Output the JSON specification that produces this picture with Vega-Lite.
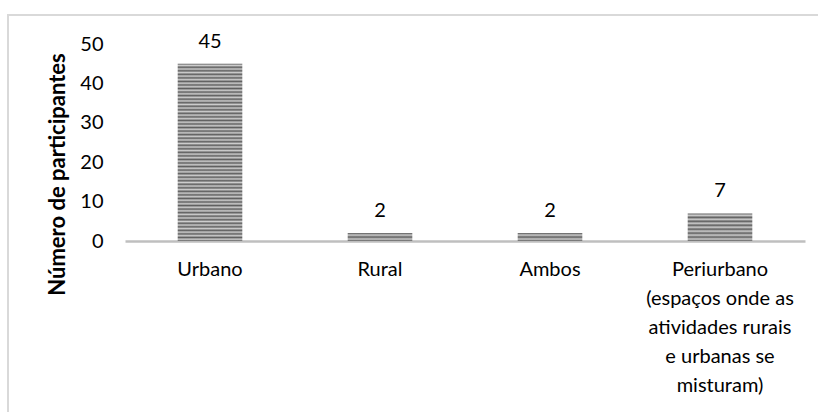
{
  "$schema": "https://vega.github.io/schema/vega-lite/v6.json",
  "autosize": {"type": "none"},
  "padding": {"left": 8, "top": 15, "right": 0, "bottom": 0},
  "width": 812,
  "height": 400,
  "background": "white",
  "config": {
    "view": {"stroke": "#d9d9d9", "strokeWidth": 2},
    "font": "Lato"
  },
  "data": {
    "values": [
      {"zona": "Urbano", "participantes": 45},
      {"zona": "Rural", "participantes": 2},
      {"zona": "Ambos", "participantes": 2},
      {"zona": "Periurbano\n(espaços onde as\natividades rurais\ne urbanas se\nmisturam)", "participantes": 7}
    ]
  },
  "encoding": {
    "x": {
      "field": "zona",
      "type": "nominal",
      "sort": null,
      "scale": {"range": [117, 797], "paddingInner": 0.62, "paddingOuter": 0.31},
      "axis": {
        "title": null,
        "orient": "bottom",
        "offset": -174,
        "domainColor": "#bfbfbf",
        "domainWidth": 2.5,
        "ticks": false,
        "tickSize": 0,
        "labelAngle": 0,
        "labelPadding": 18,
        "labelFont": "Lato",
        "labelFontSize": 20,
        "labelColor": "#000000",
        "labelLineHeight": 29,
        "labelLimit": 0,
        "labelExpr": "split(datum.label, '\\n')"
      }
    },
    "y": {
      "field": "participantes",
      "type": "quantitative",
      "scale": {"domain": [0, 50], "range": [226, 29], "nice": false},
      "axis": {
        "title": "Número de participantes",
        "titleFont": "Lato",
        "titleFontSize": 22,
        "titleFontWeight": "bold",
        "titleColor": "#000000",
        "titlePadding": 10,
        "titleY": 159,
        "values": [0, 10, 20, 30, 40, 50],
        "offset": -95,
        "domain": false,
        "ticks": false,
        "tickSize": 0,
        "grid": false,
        "labelPadding": 0,
        "labelFont": "Lato",
        "labelFontSize": 20,
        "labelColor": "#000000"
      }
    }
  },
  "layer": [
    {
      "mark": {"type": "bar"},
      "encoding": {
        "fill": {
          "condition": [
            {
              "test": "datum.zona === 'Urbano'",
              "value": {
                "gradient": "linear", "x1": 0, "y1": 0, "x2": 0, "y2": 1,
                "stops": [
                  {"offset": 0, "color": "#5e5e5e"}, {"offset": 0.01, "color": "#cdcdcd"},
                  {"offset": 0.02, "color": "#5e5e5e"}, {"offset": 0.03, "color": "#cdcdcd"},
                  {"offset": 0.04, "color": "#5e5e5e"}, {"offset": 0.05, "color": "#cdcdcd"},
                  {"offset": 0.06, "color": "#5e5e5e"}, {"offset": 0.07, "color": "#cdcdcd"},
                  {"offset": 0.08, "color": "#5e5e5e"}, {"offset": 0.09, "color": "#cdcdcd"},
                  {"offset": 0.10, "color": "#5e5e5e"}, {"offset": 0.11, "color": "#cdcdcd"},
                  {"offset": 0.12, "color": "#5e5e5e"}, {"offset": 0.13, "color": "#cdcdcd"},
                  {"offset": 0.14, "color": "#5e5e5e"}, {"offset": 0.15, "color": "#cdcdcd"},
                  {"offset": 0.16, "color": "#5e5e5e"}, {"offset": 0.17, "color": "#cdcdcd"},
                  {"offset": 0.18, "color": "#5e5e5e"}, {"offset": 0.19, "color": "#cdcdcd"},
                  {"offset": 0.20, "color": "#5e5e5e"}, {"offset": 0.21, "color": "#cdcdcd"},
                  {"offset": 0.22, "color": "#5e5e5e"}, {"offset": 0.23, "color": "#cdcdcd"},
                  {"offset": 0.24, "color": "#5e5e5e"}, {"offset": 0.25, "color": "#cdcdcd"},
                  {"offset": 0.26, "color": "#5e5e5e"}, {"offset": 0.27, "color": "#cdcdcd"},
                  {"offset": 0.28, "color": "#5e5e5e"}, {"offset": 0.29, "color": "#cdcdcd"},
                  {"offset": 0.30, "color": "#5e5e5e"}, {"offset": 0.31, "color": "#cdcdcd"},
                  {"offset": 0.32, "color": "#5e5e5e"}, {"offset": 0.33, "color": "#cdcdcd"},
                  {"offset": 0.34, "color": "#5e5e5e"}, {"offset": 0.35, "color": "#cdcdcd"},
                  {"offset": 0.36, "color": "#5e5e5e"}, {"offset": 0.37, "color": "#cdcdcd"},
                  {"offset": 0.38, "color": "#5e5e5e"}, {"offset": 0.39, "color": "#cdcdcd"},
                  {"offset": 0.40, "color": "#5e5e5e"}, {"offset": 0.41, "color": "#cdcdcd"},
                  {"offset": 0.42, "color": "#5e5e5e"}, {"offset": 0.43, "color": "#cdcdcd"},
                  {"offset": 0.44, "color": "#5e5e5e"}, {"offset": 0.45, "color": "#cdcdcd"},
                  {"offset": 0.46, "color": "#5e5e5e"}, {"offset": 0.47, "color": "#cdcdcd"},
                  {"offset": 0.48, "color": "#5e5e5e"}, {"offset": 0.49, "color": "#cdcdcd"},
                  {"offset": 0.50, "color": "#5e5e5e"}, {"offset": 0.51, "color": "#cdcdcd"},
                  {"offset": 0.52, "color": "#5e5e5e"}, {"offset": 0.53, "color": "#cdcdcd"},
                  {"offset": 0.54, "color": "#5e5e5e"}, {"offset": 0.55, "color": "#cdcdcd"},
                  {"offset": 0.56, "color": "#5e5e5e"}, {"offset": 0.57, "color": "#cdcdcd"},
                  {"offset": 0.58, "color": "#5e5e5e"}, {"offset": 0.59, "color": "#cdcdcd"},
                  {"offset": 0.60, "color": "#5e5e5e"}, {"offset": 0.61, "color": "#cdcdcd"},
                  {"offset": 0.62, "color": "#5e5e5e"}, {"offset": 0.63, "color": "#cdcdcd"},
                  {"offset": 0.64, "color": "#5e5e5e"}, {"offset": 0.65, "color": "#cdcdcd"},
                  {"offset": 0.66, "color": "#5e5e5e"}, {"offset": 0.67, "color": "#cdcdcd"},
                  {"offset": 0.68, "color": "#5e5e5e"}, {"offset": 0.69, "color": "#cdcdcd"},
                  {"offset": 0.70, "color": "#5e5e5e"}, {"offset": 0.71, "color": "#cdcdcd"},
                  {"offset": 0.72, "color": "#5e5e5e"}, {"offset": 0.73, "color": "#cdcdcd"},
                  {"offset": 0.74, "color": "#5e5e5e"}, {"offset": 0.75, "color": "#cdcdcd"},
                  {"offset": 0.76, "color": "#5e5e5e"}, {"offset": 0.77, "color": "#cdcdcd"},
                  {"offset": 0.78, "color": "#5e5e5e"}, {"offset": 0.79, "color": "#cdcdcd"},
                  {"offset": 0.80, "color": "#5e5e5e"}, {"offset": 0.81, "color": "#cdcdcd"},
                  {"offset": 0.82, "color": "#5e5e5e"}, {"offset": 0.83, "color": "#cdcdcd"},
                  {"offset": 0.84, "color": "#5e5e5e"}, {"offset": 0.85, "color": "#cdcdcd"},
                  {"offset": 0.86, "color": "#5e5e5e"}, {"offset": 0.87, "color": "#cdcdcd"},
                  {"offset": 0.88, "color": "#5e5e5e"}, {"offset": 0.89, "color": "#cdcdcd"},
                  {"offset": 0.90, "color": "#5e5e5e"}, {"offset": 0.91, "color": "#cdcdcd"},
                  {"offset": 0.92, "color": "#5e5e5e"}, {"offset": 0.93, "color": "#cdcdcd"},
                  {"offset": 0.94, "color": "#5e5e5e"}, {"offset": 0.95, "color": "#cdcdcd"},
                  {"offset": 0.96, "color": "#5e5e5e"}, {"offset": 0.97, "color": "#cdcdcd"},
                  {"offset": 0.98, "color": "#5e5e5e"}, {"offset": 0.99, "color": "#cdcdcd"},
                  {"offset": 1, "color": "#5e5e5e"}
                ]
              }
            },
            {
              "test": "indexof(datum.zona, 'Periurbano') === 0",
              "value": {
                "gradient": "linear", "x1": 0, "y1": 0, "x2": 0, "y2": 1,
                "stops": [
                  {"offset": 0, "color": "#5e5e5e"}, {"offset": 0.0714, "color": "#cdcdcd"},
                  {"offset": 0.1429, "color": "#5e5e5e"}, {"offset": 0.2143, "color": "#cdcdcd"},
                  {"offset": 0.2857, "color": "#5e5e5e"}, {"offset": 0.3571, "color": "#cdcdcd"},
                  {"offset": 0.4286, "color": "#5e5e5e"}, {"offset": 0.5, "color": "#cdcdcd"},
                  {"offset": 0.5714, "color": "#5e5e5e"}, {"offset": 0.6429, "color": "#cdcdcd"},
                  {"offset": 0.7143, "color": "#5e5e5e"}, {"offset": 0.7857, "color": "#cdcdcd"},
                  {"offset": 0.8571, "color": "#5e5e5e"}, {"offset": 0.9286, "color": "#cdcdcd"},
                  {"offset": 1, "color": "#5e5e5e"}
                ]
              }
            }
          ],
          "value": {
            "gradient": "linear", "x1": 0, "y1": 0, "x2": 0, "y2": 1,
            "stops": [
              {"offset": 0, "color": "#5e5e5e"}, {"offset": 0.25, "color": "#cdcdcd"},
              {"offset": 0.5, "color": "#5e5e5e"}, {"offset": 0.75, "color": "#cdcdcd"},
              {"offset": 1, "color": "#5e5e5e"}
            ]
          }
        }
      }
    },
    {
      "mark": {"type": "text", "font": "Lato", "fontSize": 20, "color": "#000000", "baseline": "alphabetic", "dy": -16},
      "encoding": {
        "text": {"field": "participantes", "type": "quantitative"}
      }
    }
  ]
}
